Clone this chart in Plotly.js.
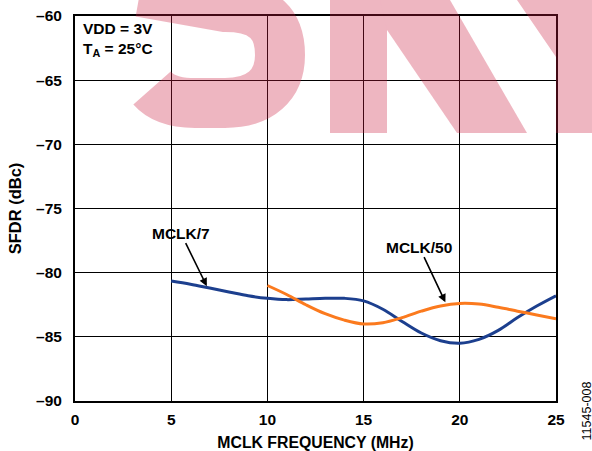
<!DOCTYPE html>
<html>
<head>
<meta charset="utf-8">
<script src="https://cdn.plot.ly/plotly-3.0.1.min.js"></script>
<style>html,body{margin:0;padding:0;background:#fff;}#chart{width:592px;height:451px;}</style>
</head>
<body>
<div id="chart"></div>
<script>
// MCLK/7 series
const freq7 = [5, 6, 7, 8, 9, 10, 11, 12, 13, 14, 15, 16, 17, 18, 19, 20, 21, 22, 23, 24, 25];
const sfdr7 = [-80.65, -80.9, -81.2, -81.5, -81.8, -82.0, -82.1, -82.05, -82.0, -82.0, -82.2, -82.85, -83.8, -84.7, -85.3, -85.5, -85.2, -84.5, -83.5, -82.6, -81.8];
// MCLK/50 series
const freq50 = [10, 11, 12, 13, 14, 15, 16, 17, 18, 19, 20, 21, 22, 23, 24, 25];
const sfdr50 = [-81.0, -81.7, -82.5, -83.2, -83.7, -84.0, -83.9, -83.5, -83.0, -82.6, -82.4, -82.45, -82.7, -83.0, -83.3, -83.6];

const xTicks = [0, 5, 10, 15, 20, 25];
const xTickText = ['0', '5', '10', '15', '20', '25'];
const yTicks = [-90, -85, -80, -75, -70, -65, -60];
const yTickText = ['\u201390', '\u201385', '\u201380', '\u201375', '\u201370', '\u201365', '\u201360'];

const FONT = 'Liberation Sans, Arial, sans-serif';

// translucent watermark band across the top (decoration only, page pixels)
const WM = 'rgb(205,30,65)';
const wmSvg = '<svg xmlns="http://www.w3.org/2000/svg" width="592" height="451" viewBox="0 0 592 451">' +
  '<defs><clipPath id="c"><rect x="0" y="0" width="592" height="133"/></clipPath></defs>' +
  '<g clip-path="url(#c)" opacity="0.32">' +
  '<path d="M 140 -8 L 225 7 C 265 7, 280 25, 280 55 C 280 85, 260 103, 225 103 L 195 103 C 172 103, 160 97, 152 88" fill="none" stroke="' + WM + '" stroke-width="50"/>' +
  '<rect x="330" y="0" width="57" height="133" fill="' + WM + '"/>' +
  '<polygon points="380,0 450,0 527,133 457,133 387,30" fill="' + WM + '"/>' +
  '<polygon points="517,0 592,0 592,133 556,133 556,57" fill="' + WM + '"/>' +
  '</g></svg>';
const wmSrc = 'data:image/svg+xml;charset=utf-8,' + encodeURIComponent(wmSvg);

const traces = [
  {x: freq7, y: sfdr7, mode: 'lines', line: {color: '#1c3f8e', width: 3, shape: 'spline'}, name: 'MCLK/7'},
  {x: freq50, y: sfdr50, mode: 'lines', line: {color: '#fb7a1e', width: 3, shape: 'spline'}, name: 'MCLK/50'}
];

const layout = {
  width: 592, height: 451,
  margin: {l: 75, r: 36, t: 16, b: 50},
  paper_bgcolor: '#fff', plot_bgcolor: '#fff',
  showlegend: false,
  font: {family: FONT, color: '#000', size: 15.5},
  xaxis: {
    range: [0, 25], tickvals: xTicks, ticktext: xTickText,
    showgrid: true, gridcolor: '#000', gridwidth: 1,
    showline: true, linecolor: '#000', linewidth: 2, mirror: true,
    zeroline: false, ticks: '', ticklabelstandoff: 3,
    tickfont: {family: FONT, size: 15.5, color: '#000', weight: 'bold'},
    title: {text: '<b>MCLK FREQUENCY (MHz)</b>', font: {family: FONT, size: 15.8}, standoff: 10}
  },
  yaxis: {
    range: [-90, -60], tickvals: yTicks, ticktext: yTickText,
    showgrid: true, gridcolor: '#000', gridwidth: 1,
    showline: true, linecolor: '#000', linewidth: 2, mirror: true,
    zeroline: false, ticks: '', ticklabelstandoff: 8,
    tickfont: {family: FONT, size: 15.5, color: '#000', weight: 'bold'},
    title: {text: '<b>SFDR (dBc)</b>', font: {family: FONT, size: 16.5}, standoff: 10}
  },
  images: [
    {source: wmSrc, xref: 'paper', yref: 'paper', x: -75 / 481, y: 401 / 385, sizex: 592 / 481, sizey: 451 / 385,
     xanchor: 'left', yanchor: 'top', sizing: 'stretch', layer: 'above'}
  ],
  annotations: [
    {xref: 'paper', yref: 'paper', x: 0.012, y: 0.995, xanchor: 'left', yanchor: 'top', align: 'left',
     text: '<b>VDD = 3V<br>T<sub>A</sub> = 25°C</b>', showarrow: false, font: {family: FONT, size: 15.5}},
    {x: 6.85, y: -81.05, ax: -26, ay: -53, text: '<b>MCLK/7</b>', showarrow: true, arrowhead: 2, arrowsize: 1, arrowwidth: 1.6,
     arrowcolor: '#000', font: {family: FONT, size: 15.5}},
    {x: 19.25, y: -82.3, ax: -26, ay: -55, text: '<b>MCLK/50</b>', showarrow: true, arrowhead: 2, arrowsize: 1, arrowwidth: 1.6,
     arrowcolor: '#000', font: {family: FONT, size: 15.5}},
    {xref: 'paper', yref: 'paper', x: 1.064, y: -0.025, xanchor: 'center', yanchor: 'middle', textangle: -90,
     text: '11545-008', showarrow: false, font: {family: FONT, size: 12.5, color: '#000'}}
  ]
};

Plotly.newPlot('chart', traces, layout, {displayModeBar: false, staticPlot: true});
</script>
</body>
</html>
